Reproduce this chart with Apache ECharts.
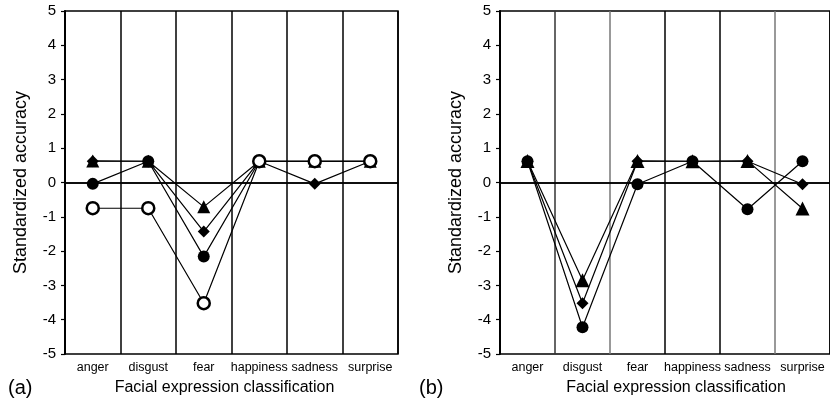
<!DOCTYPE html>
<html>
<head>
<meta charset="utf-8">
<script src="https://cdn.jsdelivr.net/npm/echarts@6/dist/echarts.min.js"></script>
<style>
  html, body { margin: 0; padding: 0; background: #fff; }
  #chart { width: 830px; height: 401px; }
</style>
</head>
<body>
<div id="chart"></div>
<script>
let cats = ['anger', 'disgust', 'fear', 'happiness', 'sadness', 'surprise'];

// panel (a)
let aDiamond = [0.62, 0.62, -1.43, 0.62, -0.04, 0.62];
let aTriangle = [0.63, 0.62, -0.71, 0.62, 0.62, 0.62];
let aCircle = [-0.04, 0.62, -2.16, 0.62, 0.62, 0.62];
let aOpen = [-0.75, -0.75, -3.52, 0.62, 0.62, 0.62];

// panel (b)
let bDiamond = [0.62, -3.52, 0.62, 0.62, 0.62, -0.05];
let bCircle = [0.62, -4.22, -0.05, 0.62, -0.78, 0.62];
let bTriangle = [0.63, -2.85, 0.63, 0.62, 0.63, -0.76];

let font = 'Liberation Sans, Arial, sans-serif';

function xAx(i, splitColors, namePad) {
  return {
    type: 'category',
    gridIndex: i,
    data: cats,
    boundaryGap: true,
    name: 'Facial expression classification',
    nameLocation: 'middle',
    nameGap: 26,
    nameTextStyle: { color: '#000', fontSize: 16, fontFamily: font, padding: namePad },
    axisLine: { show: true, lineStyle: { color: '#000', width: 1.5 } },
    axisTick: { show: false },
    axisLabel: { interval: 0, margin: 7, color: '#000', fontSize: 12.5, fontFamily: font },
    splitLine: { show: true, lineStyle: { color: splitColors, width: 1.5 } }
  };
}

function yAx(i) {
  return {
    type: 'value',
    gridIndex: i,
    min: -5,
    max: 5,
    interval: 1,
    name: 'Standardized accuracy',
    nameLocation: 'middle',
    nameRotate: 90,
    nameGap: 35,
    nameTextStyle: { color: '#000', fontSize: 18, fontFamily: font },
    axisLine: { show: true, lineStyle: { color: '#000', width: 2 } },
    axisTick: { show: true, inside: false, length: 4, lineStyle: { color: '#000', width: 1.2 } },
    axisLabel: { margin: 9, color: '#000', fontSize: 15, fontFamily: font },
    splitLine: { show: false }
  };
}

function line(i, data, symbol, size, open) {
  return {
    type: 'line',
    xAxisIndex: i,
    yAxisIndex: i,
    data: data,
    symbol: symbol,
    symbolSize: size,
    showAllSymbol: true,
    lineStyle: { color: '#000', width: 1.2 },
    itemStyle: open ? { color: '#fff', borderColor: '#000', borderWidth: 2.5 } : { color: '#000', borderWidth: 0 },
    emphasis: { disabled: true },
    animation: false
  };
}

let zeroLine = {
  silent: true,
  symbol: 'none',
  label: { show: false },
  lineStyle: { color: '#000', type: 'solid', width: 1.5 },
  data: [{ yAxis: 0 }]
};

let chart = echarts.init(document.getElementById('chart'));

let sA = [
  line(0, aDiamond, 'diamond', 12, false),
  line(0, aTriangle, 'triangle', 13, false),
  line(0, aCircle, 'circle', 12, false),
  line(0, aOpen, 'circle', 12, true)
];
sA[0].markLine = zeroLine;

let sB = [
  line(1, bDiamond, 'diamond', 12, false),
  line(1, bCircle, 'circle', 12, false),
  line(1, bTriangle, 'triangle', 14, false)
];
sB[0].markLine = zeroLine;

chart.setOption({
  backgroundColor: '#fff',
  animation: false,
  grid: [
    { left: 65, top: 11, width: 333, height: 344, show: true, borderColor: '#000', borderWidth: 1.5, backgroundColor: 'transparent' },
    { left: 500, top: 11, width: 331, height: 344, show: true, borderColor: '#000', borderWidth: 1.5, backgroundColor: 'transparent' }
  ],
  xAxis: [
    xAx(0, ['#000'], [0, 14, 0, 0]),
    xAx(1, ['#000', '#333', '#777', '#000', '#000', '#777'], [0, 0, 0, 22])
  ],
  yAxis: [yAx(0), yAx(1)],
  series: sA.concat(sB),
  graphic: [
    { type: 'text', left: 8, top: 378, style: { text: '(a)', fill: '#000', fontSize: 20, fontFamily: font } },
    { type: 'text', left: 419, top: 378, style: { text: '(b)', fill: '#000', fontSize: 20, fontFamily: font } }
  ]
});
</script>
</body>
</html>
